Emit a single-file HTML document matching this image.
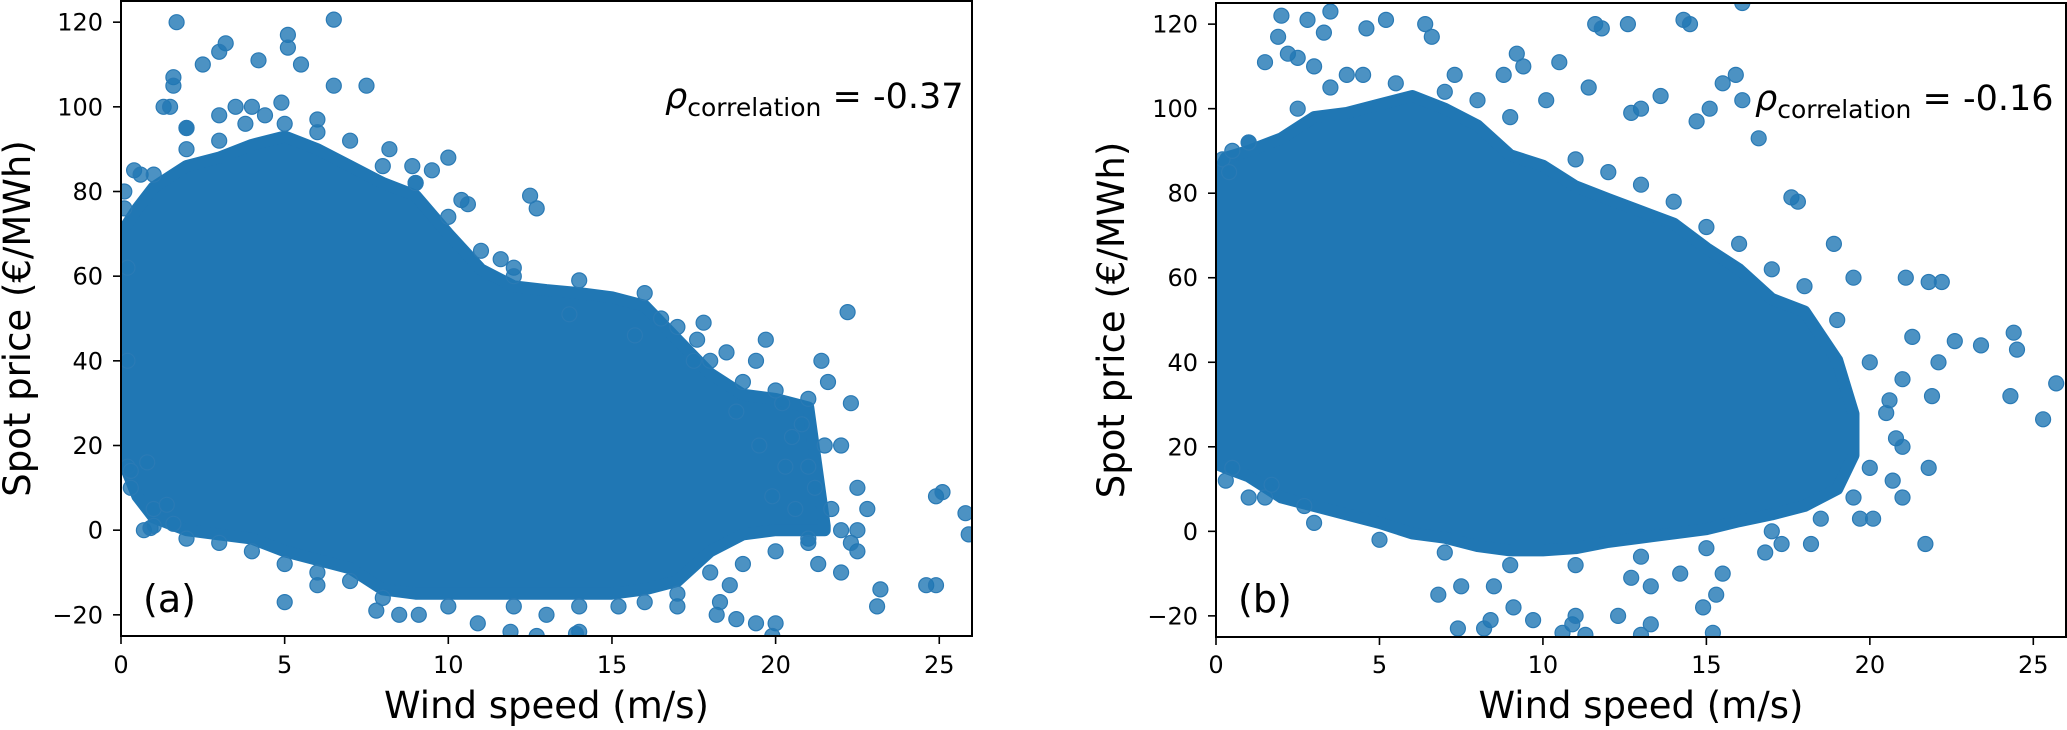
<!DOCTYPE html>
<html><head><meta charset="utf-8"><style>
html,body{margin:0;padding:0;background:#fff;}
svg{display:block;font-family:"DejaVu Sans","Liberation Sans",sans-serif;}
</style></head><body>
<svg id="fig" width="2067" height="730" viewBox="0 0 2067 730" xmlns="http://www.w3.org/2000/svg">
<defs>
<clipPath id="clipA"><rect x="121" y="1" width="851" height="635"/></clipPath>
<clipPath id="clipB"><rect x="1216" y="3" width="850" height="634"/></clipPath>
</defs>
<g id="panelA"></g>
<g id="panelB"></g>
</svg>
<script>
const xTicks = [0,5,10,15,20,25];
const yTicks = [-20,0,20,40,60,80,100,120];
const xMin = 0, xMax = 26, yMin = -25, yMax = 125;

// Panel (a): dense core envelope
const aCoreX = [0,0.5,1,2,3,4,5,6,7,8,9,10,11,12,13,14,15,16,17,18,19,20,21,21.5];
const aCoreUpper = [70,76,81,86,88,91,93,90,86,82,79,70,61.6,57.6,56.7,56,55,53,45,37,32,31,29,1];
const aCoreLower = [17.5,8,3,0,-1,-2,-5,-7,-9,-14,-15,-15,-15,-15,-15,-15,-15,-14,-12,-5,-1,0,0,0];
// Panel (a): outlier points
const aOutX = [1.7,6.5,5.1,5.1,3.2,2.5,3.0,4.2,5.5,6.5,7.5,1.6,1.6,1.3,1.5,3.5,4.9,8.9,9.0,10.4,10.6,12.5,12.7,11.6,12,13.7,15.7,17.8,17.6,19.7,19.4,21.4,22.2,21.6,22.3,24.9,25.1,25.8,25.9,24.6,24.9,23.2,23.1,20,19.4,19.9,18.6,18.2,17.0,15.2,14.0,13.0,11.9,12.7,9.1,8.5,7.8,6.0,5.0,10.9,13.9,0.7,0.9,1.0,0.3,0.2,0.8,1.4,1.6,0.2,0.2,0.1,0.1,22.5,22.0,22.8,22.3,21.3,21.0,20.5,20.6,21.0,18.3,18.8,2.0,3.8,4.4,0.4,0.6,
  19.5,20.3,21.2,20.8,19.9,21.7,22.0,18.8,20.2,21.5,17.5,18.5,16.5,9.5,10,8.2,7,6,4,3,2,
  1,2,3,5,6,8,9,10,11,12,14,16,17,18,19,20,21,22,22.5,22.5,21,20,19,18,17,16,14,12,10,8,7,6,5,4,3,2,1,0.3];
const aOutY = [120,120.6,117,114,115,110,113,111,110,105,105,107,105,100,100,100,101,86,82,78,77,79,76,64,62,51,46,49,45,45,40,40,51.5,35,30,8,9,4,-1,-13,-13,-14,-18,-22,-22,-25,-13,-20,-18,-18,-24,-20,-24,-25,-20,-20,-19,-13,-17,-22,-24.5,0,0.5,5,10,15,16,6,1.5,40,62,80,76,-5,-10,5,-3,-8,15,22,5,-2,-17,-21,95,96,98,85,84,
  20,15,10,25,8,5,0,28,30,20,40,42,50,85,88,90,92,97,100,98,95,
  84,90,92,96,94,86,82,74,66,60,59,56,48,40,35,33,31,20,10,0,-3,-5,-8,-10,-15,-17,-18,-18,-18,-16,-12,-10,-8,-5,-3,-2,1,14];

// Panel (b): dense core envelope
const bCoreX = [0,0.3,1,2,3,4,5,6,7,8,9,10,11,12,13,14,15,16,17,18,19,19.5];
const bCoreUpper = [84,88.4,90,93,98,99,101,103,100,96,89,86.5,81.6,78.6,75.7,72.8,67,62,55,52,40.5,27.8];
const bCoreLower = [16,15,13,8,6,4,2,-0.5,-1.5,-3.5,-4.5,-4.5,-4,-2.5,-1.5,-0.5,0.5,2.4,4,6,10,18];
// Panel (b): outlier points
const bOutX = [2.0,2.8,3.5,1.9,2.2,1.5,2.5,3.3,4.6,5.2,6.4,6.6,9.2,10.5,11.6,11.8,12.6,14.3,14.5,16.1,13.0,12.7,15.5,15.9,16.1,16.6,10.1,11.4,13.6,14.7,15.1,8.8,7.3,9.4,17.6,17.8,18.9,19.5,21.1,21.8,22.2,21.3,22.6,23.4,24.4,24.5,24.3,25.3,25.7,22.1,21.0,20.6,21.9,20.8,20.7,21.0,21.8,21.7,20.1,19.7,18.2,17.3,16.8,15.5,15.3,14.9,13.3,14.2,12.7,12.3,13.3,10.9,11.0,9.7,8.4,8.2,7.4,9.1,8.5,7.5,6.8,10.6,11.3,1.5,1.7,2.7,0.5,13.0,15.2,0.2,0.4,1.0,4.0,3.0,
  0.5,1,2.5,3.5,4.5,5.5,7,8,9,11,12,13,14,15,16,17,18,19,20,20.5,21,20,19.5,18.5,17,15,13,11,9,7,5,3,1,0.3];
const bOutY = [122,121,123,117,113,111,112,118,119,121,120,117,113,111,120,119,120,121,120,125,100,99,106,108,102,93,102,105,103,97,100,108,108,110,79,78,68,60,60,59,59,46,45,44,47,43,32,26.5,35,40,36,31,32,22,12,8,15,-3,3,3,-3,-3,-5,-10,-15,-18,-13,-10,-11,-20,-22,-22,-20,-21,-21,-23,-23,-18,-13,-13,-15,-24,-24.5,8,11,6,15,-24.5,-24,88,85,92,108,110,
  90,92,100,105,108,106,104,102,98,88,85,82,78,72,68,62,58,50,40,28,20,15,8,3,0,-4,-6,-8,-8,-5,-2,2,8,12];

const NS = 'http://www.w3.org/2000/svg';
function mk(tag, attrs, parent){ const e=document.createElementNS(NS,tag); for(const k in attrs) e.setAttribute(k,attrs[k]); parent.appendChild(e); return e; }

function drawPanel(g, box, clipId, coreX, coreU, coreL, outX, outY, letter, rho, rhoX, rhoY, ylabX){
  const xs = v => box.x0 + (v - xMin) * (box.x1 - box.x0) / (xMax - xMin);
  const ys = v => box.yb - (v - yMin) * (box.yb - box.yt) / (yMax - yMin);
  const plot = mk('g', {'clip-path':'url(#'+clipId+')'}, g);
  
  
  let d = '';
  coreX.forEach((x,i)=>{ d += (i?'L':'M') + xs(x).toFixed(1) + ',' + ys(coreU[i]).toFixed(1); });
  for(let i=coreX.length-1;i>=0;i--){ d += 'L' + xs(coreX[i]).toFixed(1) + ',' + ys(coreL[i]).toFixed(1); }
  d += 'Z';
  const core = mk('path', {d:d, fill:'#2077b4', stroke:'#2077b4', 'stroke-width':12, 'stroke-linejoin':'round'}, plot);
  
  
  outX.forEach((x,i)=>{
    const c = mk('circle', {cx:xs(x).toFixed(1), cy:ys(outY[i]).toFixed(1), r:7.5, fill:'rgba(31,119,180,0.8)', stroke:'#2a7ab5', 'stroke-width':1.2}, plot);
    
    
  });
  const fr = mk('rect', {x:box.x0, y:box.yt, width:box.x1-box.x0, height:box.yb-box.yt, fill:'none', stroke:'#000', 'stroke-width':2}, g);
  
  
  xTicks.forEach(t=>{
    const x = xs(t);
    mk('line', {x1:x, x2:x, y1:box.yb, y2:box.yb+8, stroke:'#000','stroke-width':1.6}, g);
    const tl = mk('text', {x:x, y:673, 'font-size':24, 'text-anchor':'middle', fill:'#000'}, g);
    tl.textContent = String(t);
    
    
  });
  yTicks.forEach(t=>{
    const y = ys(t);
    mk('line', {x1:box.x0-8, x2:box.x0, y1:y, y2:y, stroke:'#000','stroke-width':1.6}, g);
    const tl = mk('text', {x:box.x0-18, y:y+8.5, 'font-size':24, 'text-anchor':'end', fill:'#000'}, g);
    tl.textContent = t < 0 ? '\u2212' + Math.abs(t) : String(t);
    
    
  });
  const xl = mk('text', {x:(box.x0+box.x1)/2, y:718, 'font-size':37, 'text-anchor':'middle', fill:'#000'}, g);
  xl.textContent = 'Wind speed (m/s)';
  
  
  const cy = (box.yt+box.yb)/2;
  const yl = mk('text', {x:ylabX, y:cy, 'font-size':37, 'text-anchor':'middle', fill:'#000', transform:'rotate(-90 '+ylabX+' '+cy+')'}, g);
  yl.textContent = 'Spot price (\u20AC/MWh)';
  
  
  const pl = mk('text', {x:box.x0+22, y:612, 'font-size':38, fill:'#000'}, g);
  pl.textContent = '(' + letter + ')';
  
  
  const rt = mk('text', {x:rhoX, y:rhoY, 'font-size':35, fill:'#000'}, g);
  
  
  const s1 = mk('tspan', {'font-style':'italic'}, rt); s1.textContent = '\u03C1';
  const s2 = mk('tspan', {'font-size':25, dy:8}, rt); s2.textContent = 'correlation';
  const s3 = mk('tspan', {dy:-8}, rt); s3.textContent = ' = ' + rho;
}

drawPanel(document.getElementById('panelA'), {x0:121,x1:972,yt:1,yb:636}, 'clipA',
  aCoreX, aCoreUpper, aCoreLower, aOutX, aOutY, 'a', '-0.37', 665, 108, 30);
drawPanel(document.getElementById('panelB'), {x0:1216,x1:2066,yt:3,yb:637}, 'clipB',
  bCoreX, bCoreUpper, bCoreLower, bOutX, bOutY, 'b', '-0.16', 1755, 110, 1124);
</script>
</body></html>
